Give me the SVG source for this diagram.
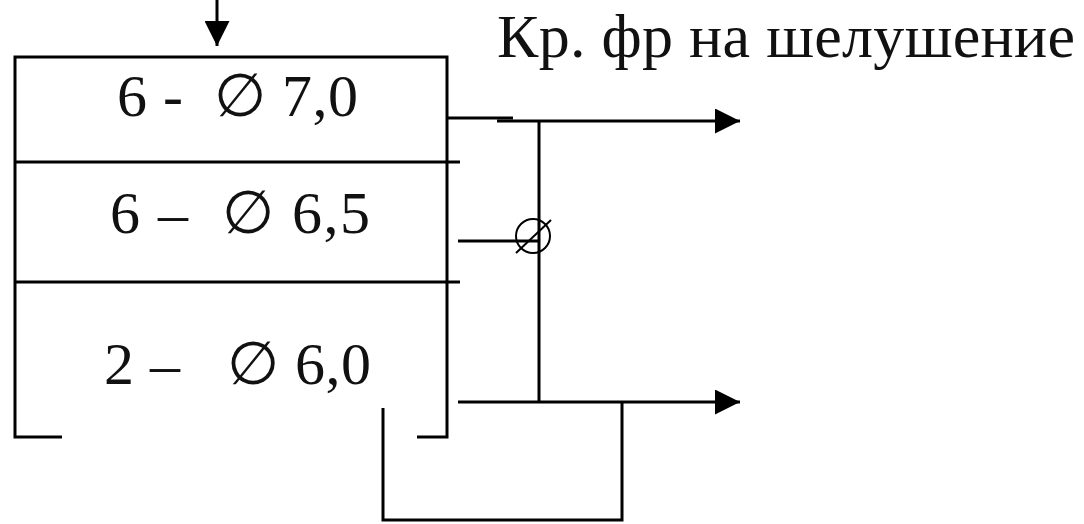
<svg xmlns="http://www.w3.org/2000/svg" width="1084" height="524" viewBox="0 0 1084 524">
<defs>
<marker id="ah2" viewBox="0 0 25 25" markerWidth="25" markerHeight="25" refX="25" refY="12.5" orient="auto" markerUnits="userSpaceOnUse">
<path d="M0,0 L25,12.5 L0,25 Z" fill="#000"/>
</marker>
</defs>
<style>
.ln{stroke:#000;stroke-width:3;fill:none}
.t{font-family:"Liberation Serif","Times New Roman",serif;fill:#111;white-space:pre}
</style>
<rect width="1084" height="524" fill="#fff"/>
<g id="sieve">
<path class="ln" d="M62,437 H15 V57 H447 V437 H417"/>
<line class="ln" x1="15" y1="162" x2="460" y2="162"/>
<line class="ln" x1="15" y1="282" x2="460" y2="282"/>
</g>
<g id="deck1"><text class="t" x="117" y="116" font-size="60" xml:space="preserve" textLength="241" lengthAdjust="spacing">6 -  ∅ 7,0</text></g>
<g id="deck2"><text class="t" x="110" y="233" font-size="60" xml:space="preserve" textLength="260" lengthAdjust="spacing">6 –  ∅ 6,5</text></g>
<g id="deck3"><text class="t" x="104" y="384" font-size="60" xml:space="preserve" textLength="267" lengthAdjust="spacing">2 –   ∅ 6,0</text></g>
<g id="label"><text class="t" x="497" y="57" font-size="62" textLength="578" lengthAdjust="spacing">Кр. фр на шелушение</text></g>
<g id="connectors">
<line class="ln" x1="217" y1="0" x2="217" y2="46" marker-end="url(#ah2)"/>
<line class="ln" x1="447" y1="118" x2="513" y2="118"/>
<line class="ln" x1="497" y1="121" x2="740" y2="121" marker-end="url(#ah2)"/>
<line class="ln" x1="539" y1="121" x2="539" y2="402"/>
<line class="ln" x1="458" y1="241" x2="539" y2="241"/>
<circle cx="533" cy="236" r="17" stroke="#000" stroke-width="2" fill="none"/>
<line x1="516" y1="253" x2="551" y2="220" stroke="#000" stroke-width="2"/>
<line class="ln" x1="458" y1="402" x2="740" y2="402" marker-end="url(#ah2)"/>
<path class="ln" d="M383,408 V520 H622 V402"/>
</g>
</svg>
